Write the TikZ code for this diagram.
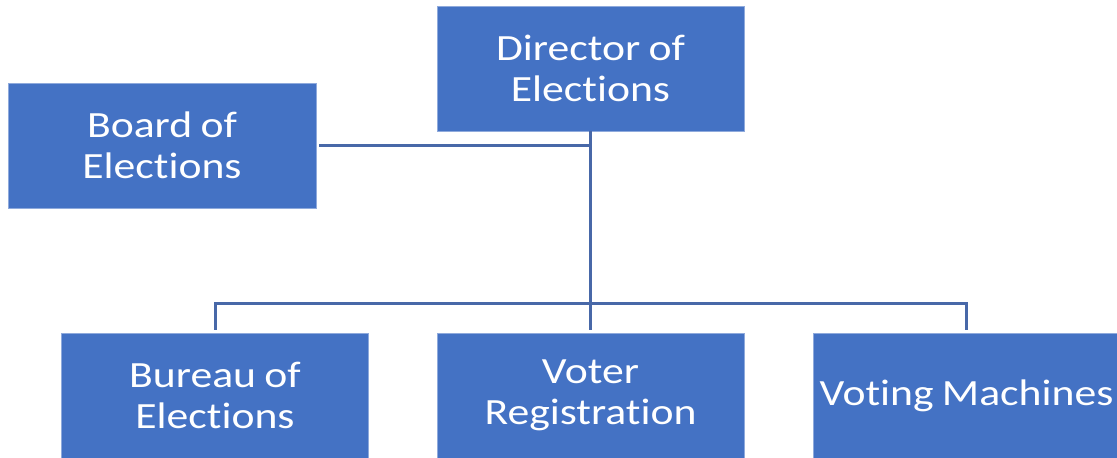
\documentclass[tikz,border=0pt]{standalone}
\usepackage{fontspec}
\setmainfont{Carlito}[FakeStretch=1.18, WordSpace=0.85, Ligatures=NoCommon]
\usepackage{xcolor}
\usetikzlibrary{positioning, calc}

\definecolor{boxblue}{RGB}{68,114,196}
\definecolor{linkblue}{RGB}{72,104,168}

\begin{document}
\begin{tikzpicture}[x=1pt, y=1pt,
    orgbox/.style={rectangle, fill=boxblue, draw=boxblue!60!white, line width=0.6pt,
        minimum width=307pt, minimum height=125pt, align=center,
        text=white, font=\fontsize{37}{41}\selectfont, inner sep=0pt},
    link/.style={draw=linkblue, line width=3pt}]
\useasboundingbox (0,0) rectangle (1117,-458);

% Boxes
\node[orgbox] (director) at (590.5,-68.5) {Director of\\Elections};
\node[orgbox, minimum width=308pt] (board) at (162,-145.5) {Board of\\Elections};
\node[orgbox] (bureau) at (215,-395.5) {Bureau of\\Elections};
\node[orgbox] (voter) at (590.5,-395.5) {Voter\\Registration};
\node[orgbox] (machines) at (966.5,-395.5) {Voting Machines};

% Connectors
\coordinate (bus) at (590.5,-303);
\draw[link] (director.south) -- ([yshift=3pt]voter.north);
\draw[link] ([xshift=3pt]board.east) -- (board.east -| director.south);
\draw[link] ([yshift=3pt]bureau.north) |- (bus) -| ([yshift=3pt]machines.north);
\end{tikzpicture}
\end{document}
